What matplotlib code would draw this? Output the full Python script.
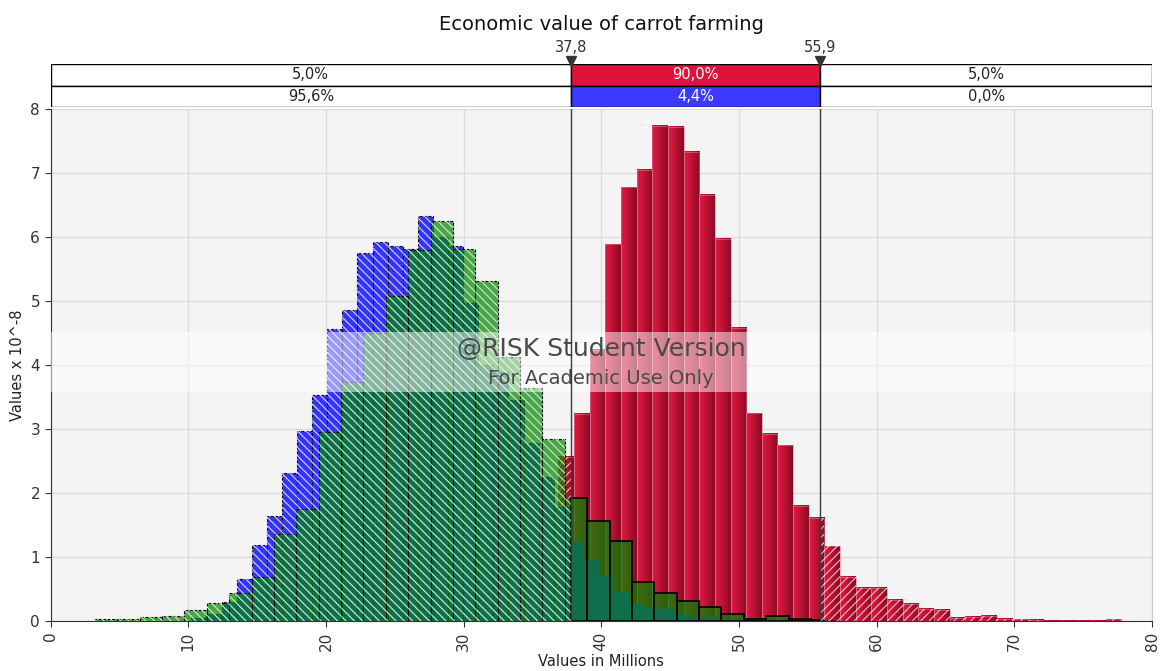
import numpy as np
import matplotlib.pyplot as plt
from matplotlib.colors import LinearSegmentedColormap

plt.rcParams['font.family'] = ['DejaVu Sans']
plt.rcParams['hatch.linewidth'] = 0.8

# histogram heights (x 10^-8), bins in millions
red_start = 32.34
red_width = 1.1365
red_heights = [0.1, 0.3, 0.7, 1.4, 2.57, 3.24, 4.24, 5.89, 6.78, 7.05, 7.74, 7.72,
               7.34, 6.66, 5.97, 4.58, 3.25, 2.93, 2.75, 1.80, 1.62, 1.17, 0.70,
               0.52, 0.52, 0.33, 0.27, 0.19, 0.18, 0.05, 0.07, 0.08, 0.035, 0.03,
               0.02, 0.01, 0.01, 0.01, 0.01, 0.03]

blue_start = 10.233
blue_width = 1.0966
blue_heights = [0.05, 0.12, 0.3, 0.66, 1.19, 1.65, 2.31, 2.98, 3.53, 4.56, 4.86,
                5.75, 5.93, 5.87, 5.82, 6.34, 6.0, 5.87, 4.97, 4.0, 3.9, 3.46,
                2.78, 2.26, 1.79, 1.24, 0.96, 0.71, 0.46, 0.27, 0.22, 0.19, 0.10,
                0.06, 0.07, 0.03, 0.03, 0.02, 0.02]

green_start = 3.232
green_width = 1.625
green_heights = [0.03, 0.03, 0.07, 0.09, 0.17, 0.29, 0.45, 0.69, 1.36, 1.75, 2.95,
                 3.74, 4.5, 5.09, 5.80, 6.25, 5.82, 5.31, 4.13, 3.65, 2.85, 1.92,
                 1.57, 1.26, 0.62, 0.44, 0.32, 0.23, 0.11, 0.04, 0.08, 0.04, 0.02]

lo, hi = 37.8, 55.9
lo_label, hi_label = '37,8', '55,9'
top_row = ['5,0%', '90,0%', '5,0%']
bottom_row = ['95,6%', '4,4%', '0,0%']
x_ticks = [0, 10, 20, 30, 40, 50, 60, 70, 80]
y_ticks = [0, 1, 2, 3, 4, 5, 6, 7, 8]

BLUE = '#3434FF'
GREEN = (0.0, 0.53, 0.0, 0.7)


def split_bins(start, width, heights):
    """cut every bin at the two markers -> (left, width, height, inside)"""
    edges = start + width * np.arange(len(heights) + 1)
    pieces = []
    for a, b, h in zip(edges[:-1], edges[1:], heights):
        cuts = [a] + [c for c in (lo, hi) if a < c < b] + [b]
        for c0, c1 in zip(cuts[:-1], cuts[1:]):
            inside = lo <= (c0 + c1) / 2 <= hi
            pieces.append((c0, c1 - c0, h, inside))
    return pieces


W, H = 1162, 671
fig = plt.figure(figsize=(W / 100, H / 100), dpi=100)
ax = fig.add_axes([50.5 / W, 1 - 621.3 / H, (1152 - 50.5) / W, (621.3 - 109.3) / H])
hax = fig.add_axes([50.5 / W, 1 - 107 / H, (1152 - 50.5) / W, 43 / H])

ax.set_facecolor('#F4F4F4')
ax.set_axisbelow(True)
ax.grid(True, color='#DCDCDC', lw=1)

# red histogram: shaded bars, hatched outside the markers
cmap = LinearSegmentedColormap.from_list('crim', ['#DE1A45', '#BC1231', '#8C0A26'])
grad = np.linspace(0, 1, 32)[None, :]
red_edges = red_start + red_width * np.arange(len(red_heights) + 1)
for a, b, h in zip(red_edges[:-1], red_edges[1:], red_heights):
    ax.imshow(grad, cmap=cmap, extent=(a, b, 0, h), aspect='auto',
              interpolation='bilinear', zorder=2)
ax.bar(red_edges[:-1], red_heights, red_width, align='edge', fill=False,
       edgecolor='#E0768E', lw=0.4, zorder=2.1)
for left, w, h, inside in split_bins(red_start, red_width, red_heights):
    if not inside:
        ax.bar(left, h, w, align='edge', fill=False, hatch='////',
               edgecolor=(1, 1, 1, 0.75), lw=0, zorder=2.2)

# blue histogram
for left, w, h, inside in split_bins(blue_start, blue_width, blue_heights):
    if inside:
        ax.bar(left, h, w, align='edge', color=BLUE, lw=0, zorder=3)
    else:
        ax.bar(left, h, w, align='edge', color=BLUE, edgecolor='black',
               lw=0.8, linestyle=(0, (2.5, 1.5)), zorder=3)
        ax.bar(left, h, w, align='edge', fill=False, hatch='\\\\\\\\',
               edgecolor=(1, 1, 1, 0.8), lw=0, zorder=3.1)

# green histogram on top, see-through
for left, w, h, inside in split_bins(green_start, green_width, green_heights):
    if inside:
        ax.bar(left, h, w, align='edge', facecolor=GREEN, edgecolor='black',
               lw=1.2, zorder=4)
    else:
        ax.bar(left, h, w, align='edge', facecolor=GREEN, edgecolor='black',
               lw=0.8, linestyle=(0, (2.5, 1.5)), zorder=4)
        ax.bar(left, h, w, align='edge', fill=False, hatch='\\\\\\\\',
               edgecolor=(1, 1, 1, 0.75), lw=0, zorder=4.1)

# watermark
ax.axhspan(3.58, 4.525, color='white', alpha=0.5, lw=0, zorder=5)
ax.text(40.0, 4.25, '@RISK Student Version', ha='center', va='center',
        fontsize=18, color='#4A4A4A', zorder=6)
ax.text(40.0, 3.80, 'For Academic Use Only', ha='center', va='center',
        fontsize=14, color='#4A4A4A', zorder=6)

ax.axvline(lo, color='#3A3A3A', lw=1, zorder=7)
ax.axvline(hi, color='#3A3A3A', lw=1, zorder=7)

ax.set_xlim(0, 80)
ax.set_ylim(0, 8)
ax.set_xticks(x_ticks)
ax.set_yticks(y_ticks)
ax.set_xticklabels([str(t) for t in x_ticks], rotation=90)
ax.tick_params(colors='#333333', labelsize=11, length=4)
for s in ['left', 'bottom']:
    ax.spines[s].set_color('#333333')
ax.spines['top'].set_visible(False)
ax.spines['right'].set_color('#C8C8C8')

# percentage bands above the chart
cells = [(0, lo), (lo, hi), (hi, 80)]
row_colors = [['white', '#DC143C', 'white'], ['white', '#3B3BFF', 'white']]
for r, labels in enumerate([top_row, bottom_row]):
    y = 1 - r
    for (c0, c1), txt, col in zip(cells, labels, row_colors[r]):
        hax.barh(y, c1 - c0, left=c0, height=1, align='edge', color=col,
                 edgecolor='black', lw=1)
        hax.text((c0 + c1) / 2, y + 0.5, txt, ha='center', va='center',
                 fontsize=10.5, color='white' if col != 'white' else '#222222')
hax.plot([lo, hi], [2.12, 2.12], 'v', color='#333333', ms=7, clip_on=False)
hax.text(lo, 2.75, lo_label, ha='center', va='center', fontsize=10.5, color='#333333')
hax.text(hi, 2.75, hi_label, ha='center', va='center', fontsize=10.5, color='#333333')
hax.set_xlim(0, 80)
hax.set_ylim(0, 2)
hax.axis('off')

fig.text(601 / W, 1 - 25 / H, 'Economic value of carrot farming', ha='center',
         va='center', fontsize=14, color='#111111')
fig.text(601 / W, 1 - 662 / H, 'Values in Millions', ha='center', va='center',
         fontsize=10.5, color='#222222')
fig.text(18 / W, 1 - 365 / H, 'Values x 10^-8', ha='center', va='center',
         rotation=90, fontsize=10.5, color='#222222')

fig.savefig('out.png', dpi=100)
